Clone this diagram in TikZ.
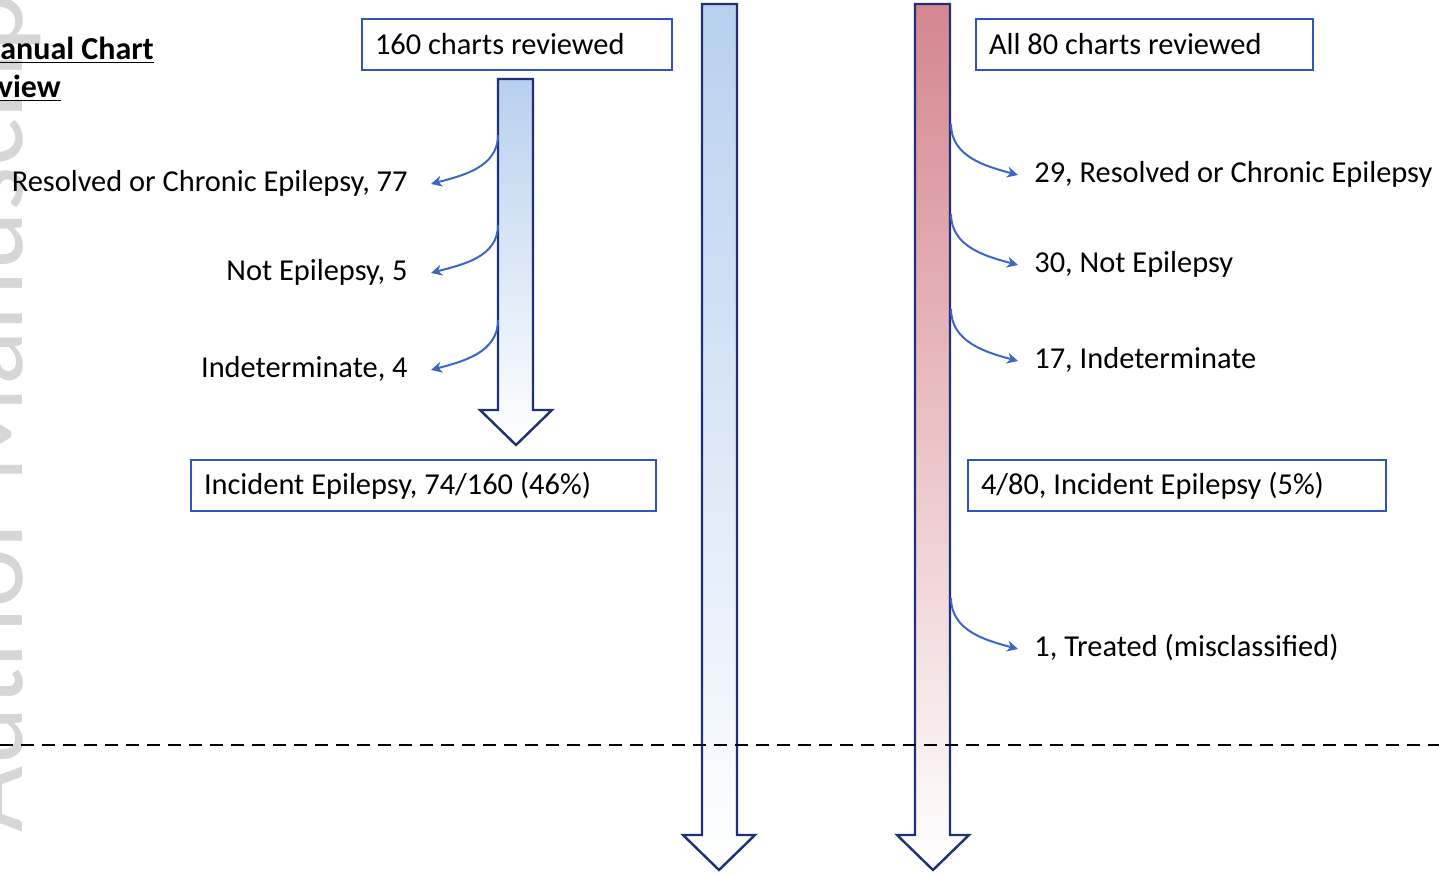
\documentclass[tikz,border=0pt]{standalone}
\usepackage{fontspec}
\setmainfont{Carlito}
\usepackage{tikz}
\usetikzlibrary{arrows.meta}
\definecolor{chartblue}{HTML}{2F55B8}
\definecolor{chartnavy}{HTML}{1F2F78}
\definecolor{curveblue}{HTML}{3A66C4}
\definecolor{shaftblue}{HTML}{B8D0EE}
\definecolor{shaftred}{HTML}{D5868F}
\definecolor{wmgray}{HTML}{D6D6D6}

\begin{document}
\begin{tikzpicture}[x=0.5pt, y=-0.5pt,
  chartbox/.style={draw=chartblue, line width=1pt, anchor=north west, inner xsep=6.5pt, inner ysep=0pt, minimum height=25.5pt, align=flush left, font=\fontsize{15.2}{18}\selectfont},
  outcome/.style={inner ysep=0pt, text height=11.5pt, text depth=3.75pt, font=\fontsize{15.2}{18}\selectfont},
  outleft/.style={outcome, anchor=east, inner xsep=11.5pt},
  outright/.style={outcome, anchor=west, inner xsep=8pt},
  flowarrow/.style={draw=chartnavy, line width=1.2pt, line join=miter},
  branch/.style={curveblue, line width=1pt, -{Stealth[length=5.5pt, width=5.5pt]}}]
\useasboundingbox (0,0) rectangle (1439,876);
\clip (0,0) rectangle (1439,876);

% watermark on the left edge
\node[rotate=90, anchor=base west, inner sep=0pt, text=wmgray, font=\fontsize{57}{60}\selectfont] (wmark) at (23,833) {Author Manuscript};
\node[anchor=north west, inner sep=0pt, align=left, font=\bfseries\fontsize{16}{19}\selectfont] (review) at (-28,37) {\underline{Manual Chart}\\\hspace*{-4pt}\underline{Review}};

% flow arrows
\shade[flowarrow, top color=shaftblue, bottom color=white] (498,79) -- (533,79) -- (533,410) -- (552,410) -- (516,445) -- (480,410) -- (498,410) -- cycle;
\shade[flowarrow, top color=shaftblue, bottom color=white] (702,4) -- (737,4) -- (737,835) -- (755,835) -- (719,870) -- (683,835) -- (702,835) -- cycle;
\shade[flowarrow, top color=shaftred, bottom color=white] (915,4) -- (950,4) -- (950,835) -- (969,835) -- (933,870) -- (897,835) -- (915,835) -- cycle;

% boxes
\node[chartbox, text width=142pt] (reviewL) at (361,18) {160 charts reviewed};
\node[chartbox, text width=155.5pt] (reviewR) at (975,18) {All 80 charts reviewed};
\node[chartbox, text width=219.5pt] (incidentL) at (190,459) {Incident Epilepsy, 74/160 (46\%)};
\node[chartbox, text width=196pt] (incidentR) at (967,459) {4/80, Incident Epilepsy (5\%)};

% left branches
\coordinate (fromL1) at (498,135);
\coordinate (fromL2) at (498,225);
\coordinate (fromL3) at (498,320);
\node[outleft] (resolvedL) at (431,184) {Resolved or Chronic Epilepsy, 77};
\node[outleft] (notL) at (431,273) {Not Epilepsy, 5};
\node[outleft] (indetL) at (431,370) {Indeterminate, 4};
\draw[branch] (fromL1) to[out=-90, in=15] (resolvedL.east);
\draw[branch] (fromL2) to[out=-90, in=15] (notL.east);
\draw[branch] (fromL3) to[out=-90, in=15] (indetL.east);

% right branches
\coordinate (fromR1) at (951,124);
\coordinate (fromR2) at (951,214);
\coordinate (fromR3) at (951,309);
\coordinate (fromR4) at (951,598);
\node[outright] (resolvedR) at (1018,175) {29, Resolved or Chronic Epilepsy};
\node[outright] (notR) at (1018,265) {30, Not Epilepsy};
\node[outright] (indetR) at (1018,361) {17, Indeterminate};
\node[outright] (treatedR) at (1018,649) {1, Treated (misclassified)};
\draw[branch] (fromR1) to[out=-90, in=165] (resolvedR.west);
\draw[branch] (fromR2) to[out=-90, in=165] (notR.west);
\draw[branch] (fromR3) to[out=-90, in=165] (indetR.west);
\draw[branch] (fromR4) to[out=-90, in=165] (treatedR.west);

% cut-off line
\coordinate (cutL) at (0,745);
\coordinate (cutR) at (1439,745);
\draw[black, line width=1.2pt, dash pattern=on 6.5pt off 4pt] (cutL) -- (cutR);
\end{tikzpicture}
\end{document}
